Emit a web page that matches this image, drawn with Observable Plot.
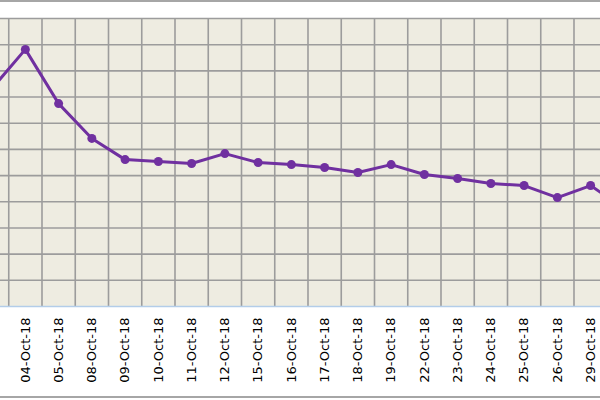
<!DOCTYPE html>
<html>
<head>
<meta charset="utf-8">
<script src="https://cdn.jsdelivr.net/npm/d3@7"></script>
<script src="https://cdn.jsdelivr.net/npm/@observablehq/plot@0.6"></script>
<style>
  html, body { margin: 0; padding: 0; background: #fff; }
  #wrap { position: relative; width: 600px; height: 400px; overflow: hidden; background: #fff; }
  #chart { position: absolute; left: -25.24px; top: 0; }
  #topline { position: absolute; left: 0; top: 0; width: 600px; height: 2px; background: #a6a6a6; }
  #botline { position: absolute; left: 0; top: 396px; width: 600px; height: 2px; background: #a6a6a6; }
</style>
</head>
<body>
<div id="wrap">
  <div id="chart"></div>
  <div id="topline"></div>
  <div id="botline"></div>
</div>
<script>
const dates = ["03-Oct-18","04-Oct-18","05-Oct-18","08-Oct-18","09-Oct-18","10-Oct-18","11-Oct-18","12-Oct-18","15-Oct-18","16-Oct-18","17-Oct-18","18-Oct-18","19-Oct-18","22-Oct-18","23-Oct-18","24-Oct-18","25-Oct-18","26-Oct-18","29-Oct-18","30-Oct-18"];
const values = [8.33, 9.82, 7.75, 6.42, 5.61, 5.54, 5.46, 5.84, 5.50, 5.42, 5.31, 5.12, 5.42, 5.04, 4.89, 4.70, 4.62, 4.16, 4.62, 3.74];
const yGrid = [1,2,3,4,5,6,7,8,9,10,11];
// the first and last dates lie beyond the visible edges; only these are labelled
const visibleTicks = d3.range(1, dates.length - 1);

const data = dates.map((d, i) => ({i, date: d, value: values[i]}));
const xBounds = d3.range(-1, dates.length).map(i => i + 0.5);

const chart = Plot.plot({
  width: 665,
  height: 400,
  marginLeft: 0,
  marginRight: 0,
  marginTop: 18,
  marginBottom: 94,
  style: {maxWidth: "none", background: "transparent", fontFamily: "'DejaVu Sans', Verdana, sans-serif", fontSize: "13px", color: "#000"},
  x: {type: "linear", domain: [-0.5, dates.length - 0.5]},
  y: {domain: [0, 11], axis: null},
  marks: [
    Plot.frame({fill: "#eeece1", stroke: null}),
    Plot.ruleX(xBounds, {stroke: "#9c9c9c", strokeWidth: 1.6, strokeOpacity: 1}),
    Plot.ruleY(yGrid, {stroke: "#9c9c9c", strokeWidth: 1.6, strokeOpacity: 1}),
    Plot.ruleY([0], {stroke: "#b3cde9", strokeWidth: 1.6}),
    Plot.line(data, {x: "i", y: "value", stroke: "#7030a0", strokeWidth: 3, strokeLinejoin: "round"}),
    Plot.dot(data, {x: "i", y: "value", fill: "#7030a0", r: 4.5}),
    Plot.axisX({
      ticks: visibleTicks,
      tickFormat: i => dates[i],
      tickSize: 0,
      tickPadding: 11,
      tickRotate: -90,
      label: null,
      fontSize: 13,
      fill: "#000"
    })
  ]
});
document.getElementById("chart").appendChild(chart);
</script>
</body>
</html>
